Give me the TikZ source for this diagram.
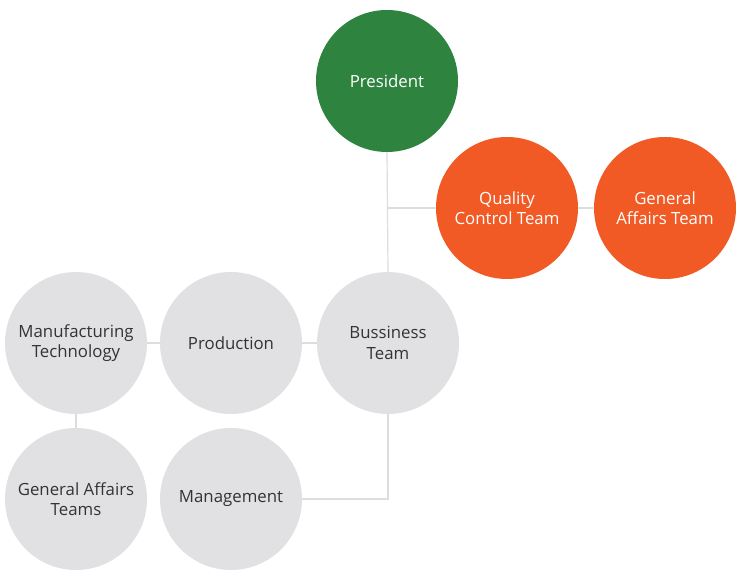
\documentclass[tikz,border=0pt]{standalone}
\usepackage{fontspec}
\setmainfont{Open Sans}
\definecolor{pgreen}{HTML}{2E843F}
\definecolor{porange}{HTML}{F15A24}
\definecolor{pgray}{HTML}{E1E1E3}
\definecolor{pline}{HTML}{DDDDDD}
\definecolor{ptext}{HTML}{333333}
\begin{document}
\begin{tikzpicture}[x=1pt,y=-1pt,
  circ/.style={circle,minimum size=142pt,inner sep=0pt,align=center,
    font=\fontsize{16.8}{20.5}\selectfont},
  graycirc/.style={circ,fill=pgray,text=ptext},
  conn/.style={draw=pline,line width=1.2pt}]
\useasboundingbox[fill=white] (0,0) rectangle (740,580);
\node[circ,fill=pgreen,text=white] (pres) at (387,81) {President};
\node[circ,fill=porange,text=white] (qc) at (507,208) {Quality\\Control Team};
\node[circ,fill=porange,text=white] (gat) at (665,208) {General\\Affairs Team};
\node[graycirc] (bt) at (388,343) {Bussiness\\Team};
\node[graycirc] (prod) at (231,343) {Production};
\node[graycirc] (mfg) at (76,343) {Manufacturing\\Technology};
\node[graycirc] (gats) at (76,499) {General Affairs\\Teams};
\node[graycirc] (mgmt) at (231,499) {Management};
\coordinate (j1) at (pres.south |- qc.west);
\coordinate (j2) at (bt.south |- mgmt.east);
\draw[conn] (pres.south) -- (bt.north);
\draw[conn] (j1) -- (qc.west);
\draw[conn] (qc.east) -- (gat.west);
\draw[conn] (prod.east) -- (bt.west);
\draw[conn] (mfg.east) -- (prod.west);
\draw[conn] (mfg.south) -- (gats.north);
\draw[conn] (mgmt.east) -- (j2) -- (bt.south);
\end{tikzpicture}
\end{document}
